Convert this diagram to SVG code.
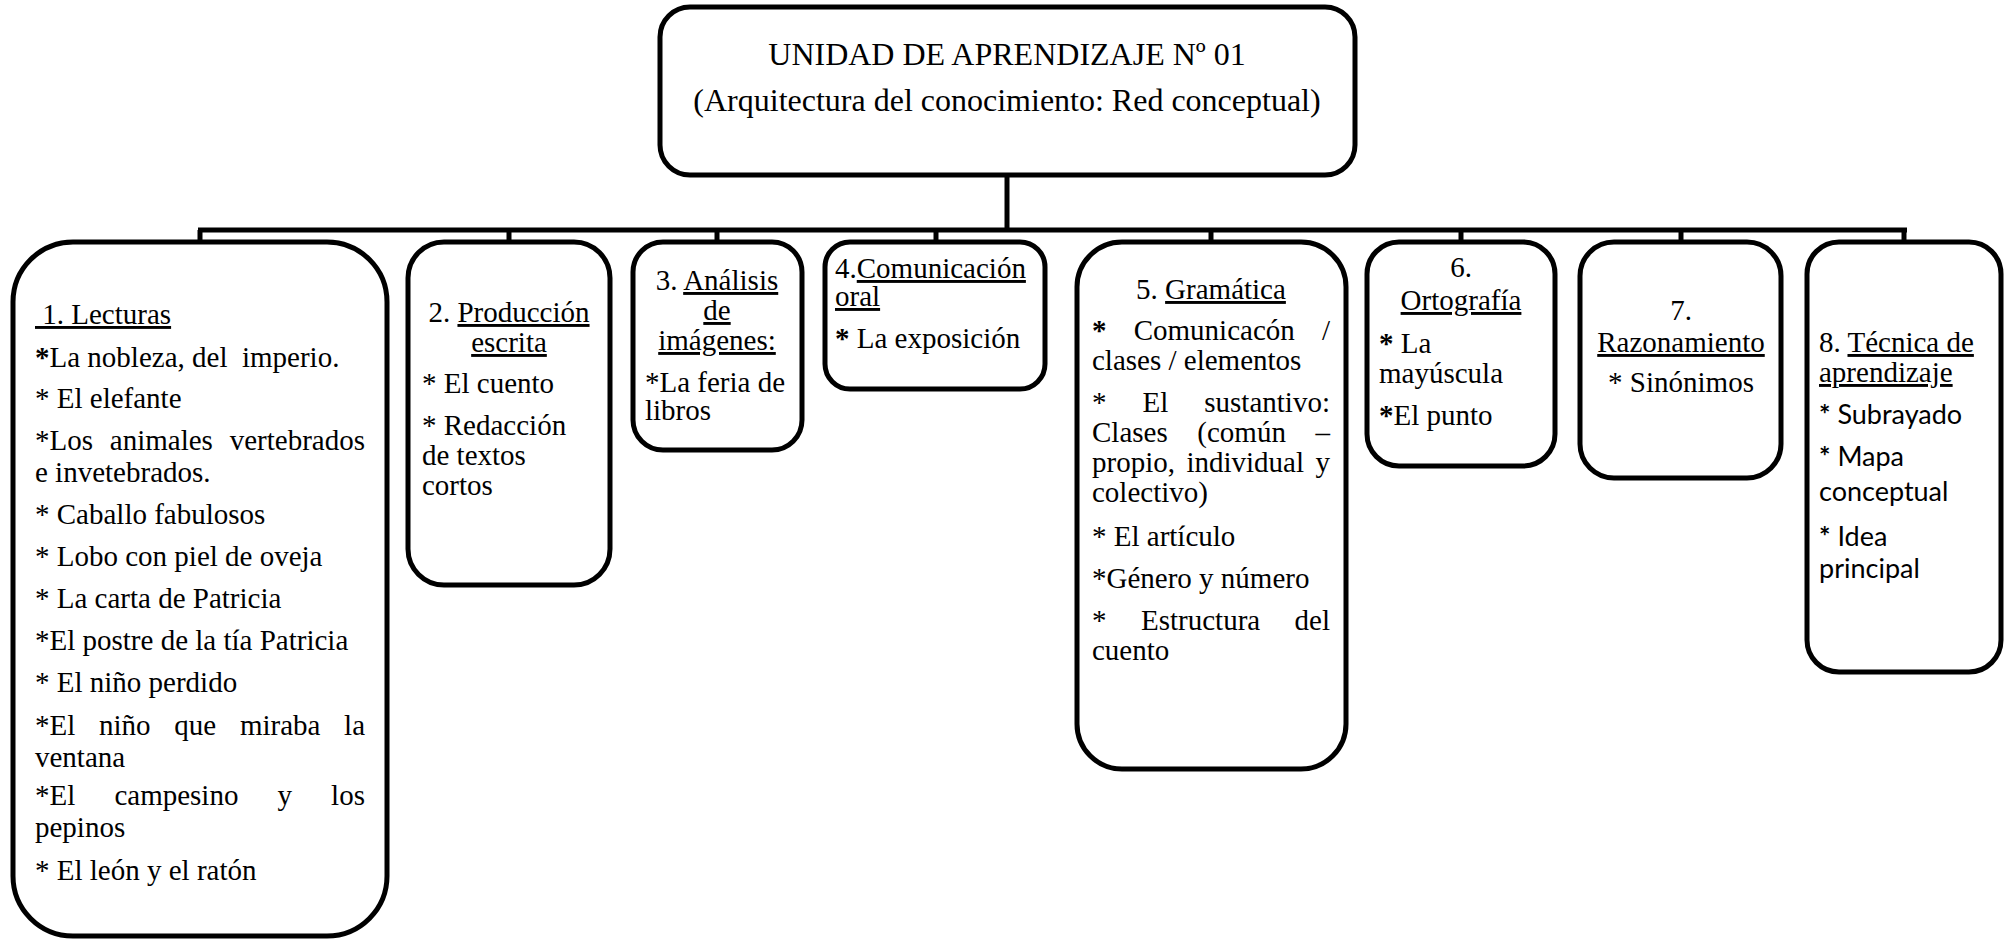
<svg xmlns="http://www.w3.org/2000/svg" width="2007" height="940" viewBox="0 0 2007 940">
<style>
.box{fill:#fff;stroke:#000;stroke-width:5}
.ln{stroke:#000;stroke-width:5;fill:none}
text{font-family:"Liberation Serif","Times New Roman",serif;font-size:29px;fill:#000}
.t{font-size:32px}
.c{text-anchor:middle}
.u{text-decoration:underline}
.b{font-weight:bold}
.s{font-family:Lato,"Open Sans","Liberation Sans",sans-serif;font-size:27px}
</style>
<rect width="2007" height="940" fill="#fff"/>
<g id="connectors">
<line class="ln" x1="1007" y1="175" x2="1007" y2="230"/>
<line class="ln" x1="198" y1="230" x2="1907" y2="230"/>
<line class="ln" x1="200" y1="230" x2="200" y2="242"/>
<line class="ln" x1="509" y1="230" x2="509" y2="242"/>
<line class="ln" x1="717" y1="230" x2="717" y2="242"/>
<line class="ln" x1="936" y1="230" x2="936" y2="242"/>
<line class="ln" x1="1211" y1="230" x2="1211" y2="242"/>
<line class="ln" x1="1461" y1="230" x2="1461" y2="242"/>
<line class="ln" x1="1681" y1="230" x2="1681" y2="242"/>
<line class="ln" x1="1904" y1="230" x2="1904" y2="242"/>
</g>
<g id="root">
<rect class="box" x="660" y="7" width="695" height="168" rx="30"/>
<text class="t c" x="1007" y="65">UNIDAD DE APRENDIZAJE Nº 01</text>
<text class="t c" x="1007" y="111">(Arquitectura del conocimiento: Red conceptual)</text>
</g>
<g id="n1">
<rect class="box" x="13" y="242" width="374" height="694" rx="60"/>
<text x="35" y="324" xml:space="preserve" class="u"> 1. Lecturas</text>
<text x="35" y="367" xml:space="preserve"><tspan class="b">*</tspan>La nobleza, del  imperio.</text>
<text x="35" y="408">* El elefante</text>
<text y="450"><tspan x="35">*Los</tspan><tspan x="109.8">animales</tspan><tspan x="229.7">vertebrados</tspan></text>
<text x="35" y="482">e invetebrados.</text>
<text x="35" y="524">* Caballo fabulosos</text>
<text x="35" y="566">* Lobo con piel de oveja</text>
<text x="35" y="608">* La carta de Patricia</text>
<text x="35" y="650">*El postre de la tía Patricia</text>
<text x="35" y="692">* El niño perdido</text>
<text y="735"><tspan x="35">*El</tspan><tspan x="99">niño</tspan><tspan x="174.3">que</tspan><tspan x="239.9">miraba</tspan><tspan x="344.1">la</tspan></text>
<text x="35" y="767">ventana</text>
<text y="805"><tspan x="35">*El</tspan><tspan x="114.4">campesino</tspan><tspan x="277.5">y</tspan><tspan x="331.1">los</tspan></text>
<text x="35" y="837">pepinos</text>
<text x="35" y="880">* El león y el ratón</text>
</g>
<g id="n2">
<rect class="box" x="408" y="242" width="202" height="343" rx="36"/>
<text class="c" x="509" y="322">2. <tspan class="u">Producción</tspan></text>
<text class="c u" x="509" y="352">escrita</text>
<text x="422" y="393">* El cuento</text>
<text x="422" y="435">* Redacción</text>
<text x="422" y="465">de textos</text>
<text x="422" y="495">cortos</text>
</g>
<g id="n3">
<rect class="box" x="633" y="242" width="169" height="208" rx="30"/>
<text class="c" x="717" y="290">3. <tspan class="u">Análisis</tspan></text>
<text class="c u" x="717" y="320">de</text>
<text class="c u" x="717" y="350">imágenes:</text>
<text x="645" y="392">*La feria de</text>
<text x="645" y="420">libros</text>
</g>
<g id="n4">
<rect class="box" x="825" y="242" width="220" height="147" rx="25"/>
<text x="835" y="278">4.<tspan class="u">Comunicación</tspan></text>
<text class="u" x="835" y="306">oral</text>
<text x="835" y="348"><tspan class="b">*</tspan> La exposición</text>
</g>
<g id="n5">
<rect class="box" x="1077" y="242" width="269" height="527" rx="45"/>
<text class="c" x="1211" y="299">5. <tspan class="u">Gramática</tspan></text>
<text y="340"><tspan x="1092" class="b">*</tspan><tspan x="1133.7">Comunicacón</tspan><tspan x="1322">/</tspan></text>
<text x="1092" y="370">clases / elementos</text>
<text y="412"><tspan x="1092">*</tspan><tspan x="1142.5">El</tspan><tspan x="1204.3">sustantivo:</tspan></text>
<text y="442"><tspan x="1092">Clases</tspan><tspan x="1197.3">(común</tspan><tspan x="1315.5">–</tspan></text>
<text y="472"><tspan x="1092">propio,</tspan><tspan x="1186.4">individual</tspan><tspan x="1315.5">y</tspan></text>
<text x="1092" y="502">colectivo)</text>
<text x="1092" y="546">* El artículo</text>
<text x="1092" y="588">*Género y número</text>
<text y="630"><tspan x="1092">*</tspan><tspan x="1141">Estructura</tspan><tspan x="1294.6">del</tspan></text>
<text x="1092" y="660">cuento</text>
</g>
<g id="n6">
<rect class="box" x="1367" y="242" width="188" height="224" rx="32"/>
<text class="c" x="1461" y="277">6.</text>
<text class="c u" x="1461" y="310">Ortografía</text>
<text x="1379" y="353"><tspan class="b">*</tspan> La</text>
<text x="1379" y="383">mayúscula</text>
<text x="1379" y="425"><tspan class="b">*</tspan>El punto</text>
</g>
<g id="n7">
<rect class="box" x="1580" y="242" width="201" height="236" rx="34"/>
<text class="c" x="1681" y="320">7.</text>
<text class="c u" x="1681" y="352">Razonamiento</text>
<text class="c" x="1681" y="392">* Sinónimos</text>
</g>
<g id="n8">
<rect class="box" x="1807" y="242" width="194" height="430" rx="32"/>
<text x="1819" y="352">8. <tspan class="u">Técnica de</tspan></text>
<text class="u" x="1819" y="382">aprendizaje</text>
<text class="s" x="1819" y="424"><tspan class="b">*</tspan> Subrayado</text>
<text class="s" x="1819" y="466"><tspan class="b">*</tspan> Mapa</text>
<text class="s" x="1819" y="501">conceptual</text>
<text class="s" x="1819" y="546"><tspan class="b">*</tspan> Idea</text>
<text class="s" x="1819" y="578">principal</text>
</g>
</svg>
